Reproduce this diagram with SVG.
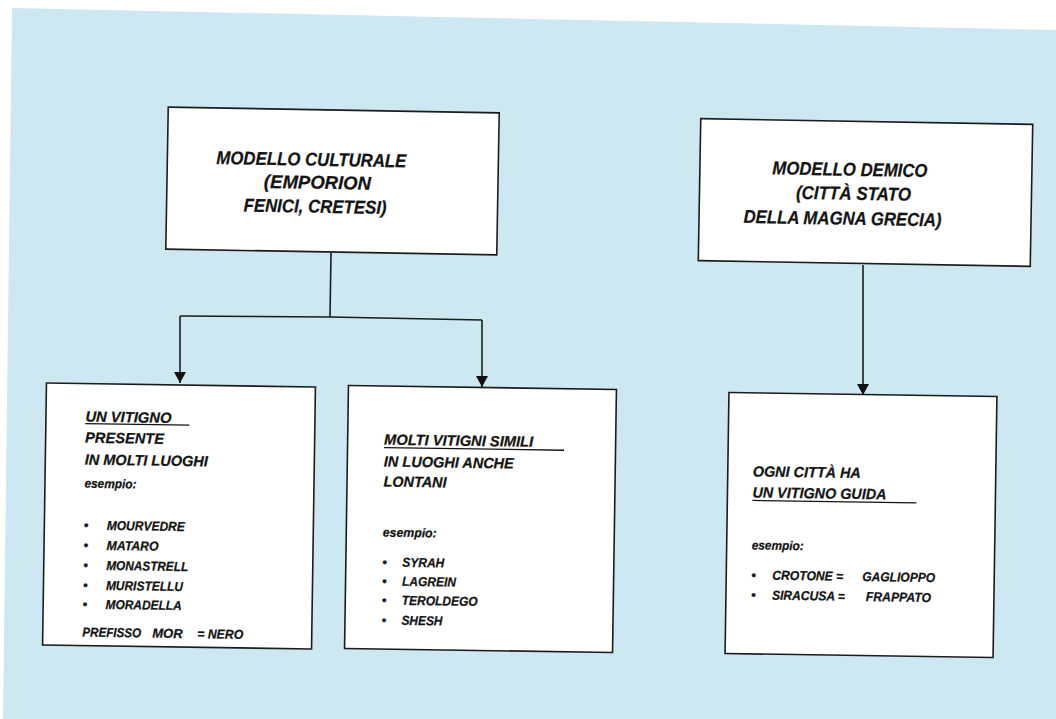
<svg xmlns="http://www.w3.org/2000/svg" width="1056" height="719" viewBox="0 0 1056 719">
<defs>
<style>
.box{fill:#ffffff;stroke:#1c1c1c;stroke-width:1.6}
.t{font-family:"Liberation Sans",Arial,sans-serif;font-weight:bold;font-style:italic;fill:#141414;stroke:#141414;stroke-width:0.25}
.h1{font-size:18.5px}
.h2{font-size:14.8px}
.s{font-size:13px}
.e{font-size:12.5px}
.u{stroke:#141414;stroke-width:1.3}
.c{fill:none;stroke:#1c1c1c;stroke-width:1.6}
</style>
<marker id="arr" markerUnits="userSpaceOnUse" markerWidth="13" markerHeight="13" refX="11" refY="6" orient="auto">
<path d="M0,0 L11,6 L0,12 Z" fill="#111"/>
</marker>
</defs>
<rect x="0" y="0" width="1056" height="719" fill="#ffffff"/>
<polygon points="12,8 1056,30 1056,719 3,719" fill="#cde8f1"/>

<g id="connectors">
<line class="c" x1="331" y1="253" x2="330" y2="317"/>
<polyline class="c" points="180,316 330,317 482,320"/>
<line class="c" x1="180" y1="316" x2="180" y2="383" marker-end="url(#arr)"/>
<line class="c" x1="482" y1="320" x2="482" y2="387" marker-end="url(#arr)"/>
<line class="c" x1="863" y1="265" x2="863" y2="395" marker-end="url(#arr)"/>
</g>

<g id="modello-culturale" transform="rotate(1 332 181)">
<rect class="box" x="167" y="110" width="331" height="142"/>
<text class="t h1" x="216" y="166" textLength="190" lengthAdjust="spacingAndGlyphs">MODELLO CULTURALE</text>
<text class="t h1" x="264" y="189" textLength="107" lengthAdjust="spacingAndGlyphs">(EMPORION</text>
<text class="t h1" x="244" y="213" textLength="143" lengthAdjust="spacingAndGlyphs">FENICI, CRETESI)</text>
</g>

<g id="modello-demico" transform="rotate(1 865.5 192.5)">
<rect class="box" x="699.5" y="121.5" width="332" height="142"/>
<text class="t h1" x="772" y="176" textLength="155" lengthAdjust="spacingAndGlyphs">MODELLO DEMICO</text>
<text class="t h1" x="796" y="200" textLength="115" lengthAdjust="spacingAndGlyphs">(CITTÀ STATO</text>
<text class="t h1" x="744" y="225" textLength="198" lengthAdjust="spacingAndGlyphs">DELLA MAGNA GRECIA)</text>
</g>

<g id="un-vitigno" transform="rotate(0.85 179 516)">
<rect class="box" x="44.5" y="385" width="269" height="262"/>
<text class="t h2" x="84" y="423" textLength="86" lengthAdjust="spacingAndGlyphs">UN VITIGNO</text>
<line class="u" x1="84" y1="425" x2="188" y2="425"/>
<text class="t h2" x="84" y="444" textLength="79" lengthAdjust="spacingAndGlyphs">PRESENTE</text>
<text class="t h2" x="84" y="466" textLength="123" lengthAdjust="spacingAndGlyphs">IN MOLTI LUOGHI</text>
<text class="t e" x="84" y="489" textLength="52" lengthAdjust="spacingAndGlyphs">esempio:</text>
<text class="t s" x="84" y="531">•</text><text class="t s" x="107" y="531" textLength="78" lengthAdjust="spacingAndGlyphs">MOURVEDRE</text>
<text class="t s" x="84" y="551">•</text><text class="t s" x="107" y="551" textLength="52" lengthAdjust="spacingAndGlyphs">MATARO</text>
<text class="t s" x="84" y="571">•</text><text class="t s" x="107" y="571" textLength="82" lengthAdjust="spacingAndGlyphs">MONASTRELL</text>
<text class="t s" x="84" y="591">•</text><text class="t s" x="107" y="591" textLength="77" lengthAdjust="spacingAndGlyphs">MURISTELLU</text>
<text class="t s" x="84" y="610">•</text><text class="t s" x="107" y="610" textLength="76" lengthAdjust="spacingAndGlyphs">MORADELLA</text>
<text class="t s" x="84" y="638" textLength="59" lengthAdjust="spacingAndGlyphs">PREFISSO</text>
<text class="t s" x="154" y="638">MOR</text>
<text class="t s" x="199" y="638" textLength="46" lengthAdjust="spacingAndGlyphs">= NERO</text>
</g>

<g id="molti-vitigni" transform="rotate(0.85 480.5 519)">
<rect class="box" x="346.5" y="387.5" width="268" height="263"/>
<text class="t h2" x="383" y="446" textLength="149" lengthAdjust="spacingAndGlyphs">MOLTI VITIGNI SIMILI</text>
<line class="u" x1="383" y1="449" x2="563" y2="449"/>
<text class="t h2" x="383" y="468" textLength="130" lengthAdjust="spacingAndGlyphs">IN LUOGHI ANCHE</text>
<text class="t h2" x="383" y="488" textLength="63" lengthAdjust="spacingAndGlyphs">LONTANI</text>
<text class="t e" x="383" y="538" textLength="54" lengthAdjust="spacingAndGlyphs">esempio:</text>
<text class="t s" x="383" y="568">•</text><text class="t s" x="403" y="568" textLength="42" lengthAdjust="spacingAndGlyphs">SYRAH</text>
<text class="t s" x="383" y="587">•</text><text class="t s" x="403" y="587" textLength="54" lengthAdjust="spacingAndGlyphs">LAGREIN</text>
<text class="t s" x="383" y="606">•</text><text class="t s" x="403" y="606" textLength="76" lengthAdjust="spacingAndGlyphs">TEROLDEGO</text>
<text class="t s" x="383" y="626">•</text><text class="t s" x="403" y="626" textLength="41" lengthAdjust="spacingAndGlyphs">SHESH</text>
</g>

<g id="ogni-citta" transform="rotate(0.85 861 525)">
<rect class="box" x="727" y="394.5" width="268" height="261"/>
<text class="t h2" x="752" y="478" textLength="108" lengthAdjust="spacingAndGlyphs">OGNI CITTÀ HA</text>
<text class="t h2" x="752" y="499" textLength="134" lengthAdjust="spacingAndGlyphs">UN VITIGNO GUIDA</text>
<line class="u" x1="752" y1="502" x2="916" y2="502"/>
<text class="t e" x="752" y="551" textLength="52" lengthAdjust="spacingAndGlyphs">esempio:</text>
<text class="t s" x="752" y="581">•</text><text class="t s" x="773" y="581" textLength="71" lengthAdjust="spacingAndGlyphs">CROTONE =</text><text class="t s" x="863" y="581" textLength="73" lengthAdjust="spacingAndGlyphs">GAGLIOPPO</text>
<text class="t s" x="752" y="601">•</text><text class="t s" x="773" y="601" textLength="73" lengthAdjust="spacingAndGlyphs">SIRACUSA =</text><text class="t s" x="867" y="601" textLength="65" lengthAdjust="spacingAndGlyphs">FRAPPATO</text>
</g>
</svg>
